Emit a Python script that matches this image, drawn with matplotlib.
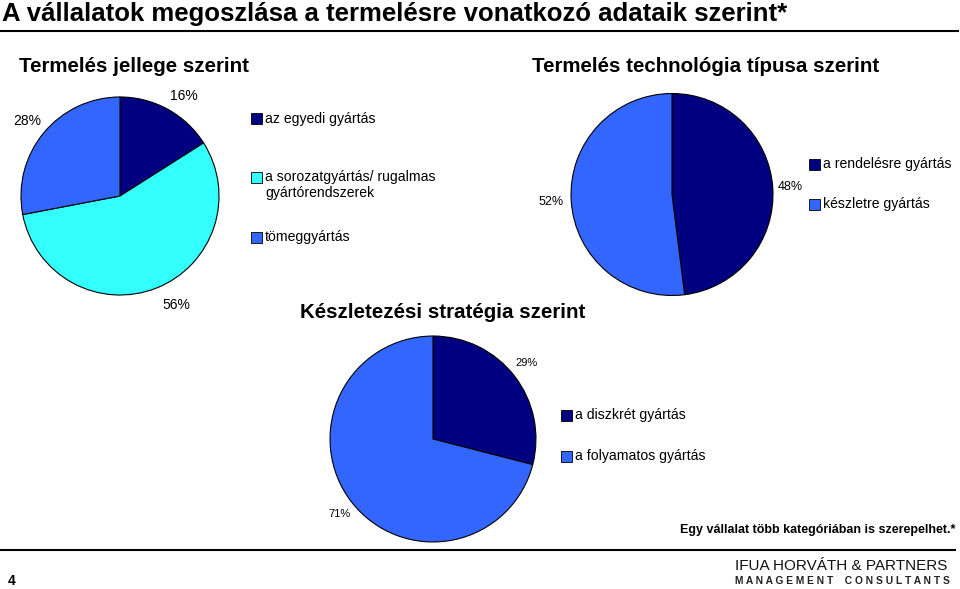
import matplotlib
matplotlib.use("Agg")
import matplotlib.pyplot as plt
from matplotlib.patches import Rectangle

plt.rcParams['font.family'] = ['Liberation Sans', 'DejaVu Sans']

W, H = 960, 589

# data
jelleg_labels = ['az egyedi gyártás', 'a sorozatgyártás/ rugalmas\ngyártórendszerek', 'tömeggyártás']
jelleg_values = [16, 56, 28]
jelleg_colors = ['#000080', '#33FFFF', '#3366FF']

techn_labels = ['a rendelésre gyártás', 'készletre gyártás']
techn_values = [48, 52]
techn_colors = ['#000080', '#3366FF']

keszlet_labels = ['a diszkrét gyártás', 'a folyamatos gyártás']
keszlet_values = [29, 71]
keszlet_colors = ['#000080', '#3366FF']

fig = plt.figure(figsize=(W / 100, H / 100), dpi=100)


def px_axes(cx, cy, r):
    # axes box in pixel coords (y from top)
    return fig.add_axes([(cx - r) / W, 1 - (cy + r) / H, 2 * r / W, 2 * r / H])


def pie(cx, cy, r, values, colors, label_pos, fs):
    ax = px_axes(cx, cy, r)
    ax.pie(values, colors=colors, startangle=90, counterclock=False,
           wedgeprops=dict(edgecolor='black', linewidth=0.8), radius=1)
    ax.set_xlim(-1.01, 1.01)
    ax.set_ylim(-1.01, 1.01)
    ax.set_aspect('equal')
    ax.axis('off')
    for v, (x, y) in zip(values, label_pos):
        fig.text(x / W, 1 - y / H, f'{v}%', ha='center', va='center', fontsize=fs)


def legend(x, ys, labels, colors, fs=10.1):
    for yy, lab, c in zip(ys, labels, colors):
        fig.patches.append(Rectangle(((x - 5.5) / W, 1 - (yy + 5.5) / H), 11 / W, 11 / H,
                                     facecolor=c, edgecolor='black', linewidth=0.6,
                                     transform=fig.transFigure, figure=fig))
        fig.text((x + 9) / W, 1 - (yy - 7) / H, lab, ha='left', va='top',
                 fontsize=fs, linespacing=1.2)


# title and rules
fig.text(2 / W, 1 - 14 / H, 'A vállalatok megoszlása a termelésre vonatkozó adataik szerint*',
         ha='left', va='center', fontsize=18.5, fontweight='bold')
fig.lines.append(plt.Line2D([0, 958 / W], [1 - 31 / H] * 2, color='black', lw=1.5,
                            transform=fig.transFigure))
fig.lines.append(plt.Line2D([0, 955 / W], [1 - 550 / H] * 2, color='black', lw=1.5,
                            transform=fig.transFigure))

# subtitles
fig.text(19 / W, 1 - 67 / H, 'Termelés jellege szerint', ha='left', va='center',
         fontsize=14.8, fontweight='bold')
fig.text(532 / W, 1 - 67 / H, 'Termelés technológia típusa szerint', ha='left', va='center',
         fontsize=14.8, fontweight='bold')
fig.text(300 / W, 1 - 313 / H, 'Készletezési stratégia szerint', ha='left', va='center',
         fontsize=14.8, fontweight='bold')

# pies
pie(120, 196, 100, jelleg_values, jelleg_colors,
    [(184, 96), (176, 305), (27, 121)], 10)
legend(256, [119, 177, 237], jelleg_labels, jelleg_colors)

pie(672, 194.5, 102, techn_values, techn_colors,
    [(790, 187), (551, 202)], 9)
legend(814, [164, 204], techn_labels, techn_colors)

pie(433, 439, 104, keszlet_values, keszlet_colors,
    [(527, 363), (340, 514)], 8)
legend(566, [415, 456], keszlet_labels, keszlet_colors)

# footer
fig.text(955 / W, 1 - 530 / H, 'Egy vállalat több kategóriában is szerepelhet.*',
         ha='right', va='center', fontsize=9, fontweight='bold')
fig.text(8 / W, 1 - 581 / H, '4', ha='left', va='center', fontsize=10, fontweight='bold')
fig.text(735 / W, 1 - 566 / H, 'IFUA HORVÁTH & PARTNERS', ha='left', va='center',
         fontsize=11.0, color='#111111')
fig.text(735 / W, 1 - 581 / H, 'M A N A G E M E N T    C O N S U L T A N T S',
         ha='left', va='center', fontsize=7.4, fontweight='bold', color='#222222')

fig.savefig('out.png', dpi=100)
